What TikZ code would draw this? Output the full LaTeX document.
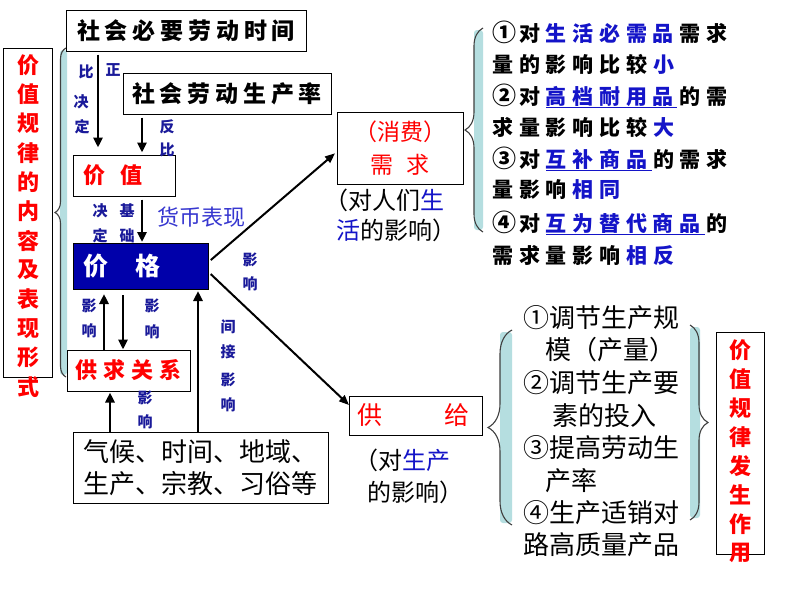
\documentclass[tikz,border=0pt]{standalone}
\usepackage{fontspec}
\setmainfont{Noto Sans CJK SC}
\newfontfamily\cjk{Noto Sans CJK SC}
\usetikzlibrary{arrows.meta,decorations.pathreplacing}
\definecolor{navy}{HTML}{1A1A9A}
\definecolor{tb}{HTML}{1414C8}
\definecolor{rd}{HTML}{FF0000}
\definecolor{pb}{HTML}{0000AA}
\definecolor{bfill}{HTML}{B5DEE0}
\newcommand{\circnum}[1]{\makebox[26.8pt][l]{\fontsize{24}{24}\selectfont #1}}
\newcommand{\spc}[1]{\spcx#1\relax}
\def\spcx#1{\ifx#1\relax\else\makebox[26.8pt][l]{#1}\expandafter\spcx\fi}
\tikzset{
 box/.style={draw=black, line width=1pt, fill=white, inner sep=0pt},
 arr/.style={line width=2.6pt, -{Triangle[length=10pt,width=9pt]}},
 darr/.style={line width=2pt, -{Triangle[length=10pt,width=8pt]}},
 lbl/.style={font=\cjk\bfseries\fontsize{15}{18}\selectfont, text=navy, inner sep=0pt},
 vch/.style={font=\cjk\bfseries\fontsize{22}{24}\selectfont, text=rd, inner sep=0pt},
 brc/.style={draw=black!75, line width=1.1pt, decorate},
 tline/.style={font=\cjk\bfseries\fontsize{21}{24}\selectfont, inner sep=0pt, anchor=west},
 rline/.style={font=\cjk\fontsize{26}{30}\selectfont, inner sep=0pt, anchor=west},
}
\begin{document}
\begin{tikzpicture}[x=1pt,y=-1pt]
\useasboundingbox[fill=white] (0,0) rectangle (800,600);
% braces
\fill[bfill, rounded corners=3pt] (60,50) rectangle (67,375);
\draw[brc, decoration={brace,amplitude=11pt}] (66,377) -- (66,48);
\fill[bfill, rounded corners=3pt] (474,30) rectangle (483,230);
\draw[brc, decoration={brace,amplitude=18pt}] (483,232) -- (483,28);
\fill[bfill, rounded corners=3pt] (500,332) rectangle (512,523);
\draw[brc, decoration={brace,amplitude=24pt}] (512,525) -- (512,330);
\fill[bfill, rounded corners=3pt] (690,327) rectangle (700,518);
\draw[brc, decoration={brace,amplitude=18pt}] (690,325) -- (690,520);
% left vertical box
\node[box, minimum width=49pt, minimum height=329pt] (lb) at (27.5,212.5) {};
\foreach \c [count=\i] in {价,值,规,律,的,内,容,及,表,现,形,式}
  \node[vch] (lv\i) at (28,{65+29.27*(\i-1)}) {\c};
% right vertical box
\node[box, minimum width=48pt, minimum height=222pt] (rb) at (740,443.5) {};
\foreach \c [count=\i] in {价,值,规,律,发,生,作,用}
  \node[vch] (rv\i) at (740,{350+29*(\i-1)}) {\c};
% main boxes
\node[box, minimum width=240pt, minimum height=41pt, font=\cjk\bfseries\fontsize{23}{24}\selectfont\addfontfeature{LetterSpace=21}] (sn) at (186,30.5) {社会必要劳动时间};
\node[box, minimum width=208pt, minimum height=41pt, font=\cjk\bfseries\fontsize{23}{24}\selectfont\addfontfeature{LetterSpace=21}] (sp) at (227,93.5) {社会劳动生产率};
\node[box, minimum width=102pt, minimum height=41pt] (v) at (124,175.5) {};
\node[anchor=west, inner sep=0pt, text=rd, font=\cjk\bfseries\fontsize{22}{24}\selectfont] (vt) at (83,175.5) {价\hspace{15pt}值};
\node[box, fill=pb, minimum width=135pt, minimum height=46pt] (p) at (140.5,266.5) {};
\node[anchor=west, inner sep=0pt, text=white, font=\cjk\bfseries\fontsize{25}{28}\selectfont] (pt) at (83,266.5) {价\hspace{27pt}格};
\node[box, minimum width=123pt, minimum height=41pt, text=rd, font=\cjk\bfseries\fontsize{22}{24}\selectfont\addfontfeature{LetterSpace=28}] (g) at (128.5,370.5) {供求关系};
\node[box, minimum width=255pt, minimum height=71pt, align=left, font=\cjk\fontsize{26}{32}\selectfont] (f) at (200.5,467.5) {气候、时间、地域、\\生产、宗教、习俗等};
\node[box, minimum width=126pt, minimum height=72pt, align=center, text=rd, font=\cjk\fontsize{23}{33}\selectfont] (d) at (400,148) {（消费）\\需\hspace{14pt}求};
\node[box, minimum width=133pt, minimum height=39pt] (s) at (416,415.5) {};
\node[anchor=west, inner sep=0pt, text=rd, font=\cjk\fontsize{25}{28}\selectfont] (st) at (357,415.5) {供\hspace{62pt}给};
% captions
\node[anchor=west, inner sep=0pt, font=\cjk\fontsize{24}{28}\selectfont] (dc1) at (324,200) {（对人们{\color{tb}生}};
\node[anchor=west, inner sep=0pt, font=\cjk\fontsize{24}{28}\selectfont] (dc2) at (336,230) {{\color{tb}活}的影响）};
\node[anchor=west, inner sep=0pt, font=\cjk\fontsize{24}{28}\selectfont] (sc1) at (354,460) {（对{\color{tb}生产}};
\node[anchor=west, inner sep=0pt, font=\cjk\fontsize{24}{28}\selectfont] (sc2) at (367,492) {的影响）};
\node[anchor=center, inner sep=0pt, text=tb!85!white, font=\cjk\fontsize{22}{24}\selectfont] (hb) at (201,217) {货币表现};
% top-right block
\node[tline] (t1) at (492,32) {\circnum{①}\spc{对}{\color{tb}\spc{生活必需品}}\spc{需求}};
\node[tline] (t2) at (492,64) {\spc{量的影响比较}{\color{tb}\spc{小}}};
\node[tline] (t3) at (492,95) {\circnum{②}\spc{对}{\color{tb}\spc{高档耐用品}}\spc{的需}};
\node[tline] (t4) at (492,127) {\spc{求量影响比较}{\color{tb}\spc{大}}};
\node[tline] (t5) at (492,158) {\circnum{③}\spc{对}{\color{tb}\spc{互补商品}}\spc{的需求}};
\node[tline] (t6) at (492,190) {\spc{量影响}{\color{tb}\spc{相同}}};
\node[tline] (t7) at (492,222) {\circnum{④}\spc{对}{\color{tb}\spc{互为替代商品}}\spc{的}};
\node[tline] (t8) at (492,255) {\spc{需求量影响}{\color{tb}\spc{相反}}};
\draw[tb, line width=1pt] (546,107) -- (677,107);
\draw[tb, line width=1pt] (546,170) -- (652,170);
\draw[tb, line width=1pt] (546,234) -- (705,234);
% bottom-right block
\node[rline] (r1) at (523,318) {①调节生产规};
\node[rline] (r2) at (545,350) {模（产量）};
\node[rline] (r3) at (523,383) {②调节生产要};
\node[rline] (r4) at (552,416) {素的投入};
\node[rline] (r5) at (523,448) {③提高劳动生};
\node[rline] (r6) at (545,481) {产率};
\node[rline] (r7) at (523,513) {④生产适销对};
\node[rline] (r8) at (523,545) {路高质量产品};
% small labels
\node[lbl] (a1) at (86,72) {比};
\node[lbl] (a2) at (113,70) {正};
\node[lbl] (a3) at (81,102) {决};
\node[lbl] (a4) at (82,127) {定};
\node[lbl] (b1) at (167,127) {反};
\node[lbl] (b2) at (167,150) {比};
\node[lbl] (c1) at (100,211) {决};
\node[lbl] (c2) at (100,236) {定};
\node[lbl] (c3) at (127,211) {基};
\node[lbl] (c4) at (127,236) {础};
\node[lbl] (e1) at (89,306) {影};
\node[lbl] (e2) at (89,331) {响};
\node[lbl] (e3) at (152,306) {影};
\node[lbl] (e4) at (152,332) {响};
\node[lbl] (e5) at (145,398) {影};
\node[lbl] (e6) at (145,422) {响};
\node[lbl] (j1) at (228,327) {间};
\node[lbl] (j2) at (228,352) {接};
\node[lbl] (j3) at (228,380) {影};
\node[lbl] (j4) at (228,405) {响};
\node[lbl] (k1) at (250,260) {影};
\node[lbl] (k2) at (250,284) {响};
% arrows
\coordinate (x98) at (98,0);
\coordinate (x142) at (142,0);
\coordinate (x104) at (104,0);
\coordinate (x123) at (123,0);
\coordinate (x110) at (110,0);
\coordinate (x198) at (198,0);
\draw[arr, shorten <=3pt, shorten >=7pt] (sn.south -| x98) -- (v.north -| x98);
\draw[arr, shorten <=3pt, shorten >=2pt] (sp.south -| x142) -- (v.north -| x142);
\draw[arr, shorten <=3pt, shorten >=1pt] (v.south -| x142) -- (p.north -| x142);
\draw[arr, shorten >=4pt] (g.north -| x104) -- (p.south -| x104);
\draw[arr, shorten <=5pt] (p.south -| x123) -- (g.north -| x123);
\draw[arr, shorten >=1pt] (f.north -| x110) -- (g.south -| x110);
\draw[arr, shorten >=1pt] (f.north -| x198) -- (p.south -| x198);
\draw[darr, shorten <=3pt, shorten >=2pt] ([yshift=4.5pt]p.east) -- ([yshift=-4pt]d.west);
\draw[darr, shorten <=3pt] ([yshift=-5.5pt]p.east) -- ([yshift=10.5pt]s.west);
\end{tikzpicture}
\end{document}
